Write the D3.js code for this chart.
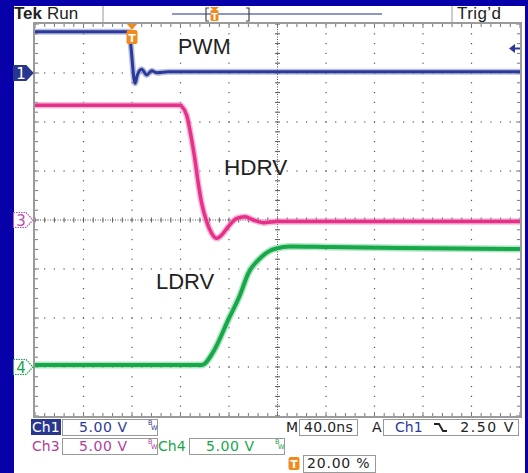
<!DOCTYPE html>
<html><head><meta charset="utf-8">
<script src="https://cdn.jsdelivr.net/npm/d3@7"></script>
<style>html,body{margin:0;padding:0;background:#0800a8;}svg{display:block;}</style>
</head><body>
<svg id="c" width="528" height="473"></svg>
<script>
// ---- data (time in ns relative to trigger, volts) ----
const pwmTime  = [-80, -2.2, -1.1, 2.5, 4.4, 8.0, 12.1, 16.2, 20.4, 30, 320];
const pwmVolts = [4.2, 4.2, 3.0, -1.05, -0.2, 0.38, -0.2, 0.23, 0.03, 0.13, 0.13];
const hdrvTime  = [-80, 40, 41.0, 45.1, 49.2, 52.0, 54.7, 57.5, 61.6, 65.7, 69.9, 74.0, 79.4, 86.4, 93.2, 100.0, 108.3, 120, 320];
const hdrvVolts = [11.7, 11.7, 11.6, 10.7, 8.2, 6.1, 3.7, 1.7, -0.17, -1.36, -1.87, -1.53, -0.68, 0.17, 0.34, 0.0, -0.27, -0.15, -0.15];
const ldrvTime  = [-80, 39.6, 56, 58.8, 67.1, 80.2, 89.1, 95.9, 105.6, 113.8, 119.3, 130.3, 163.3, 221, 320];
const ldrvVolts = [0.2, 0.2, 0.2, 0.25, 1.56, 5.03, 7.35, 9.56, 11.09, 11.87, 12.11, 12.3, 12.24, 12.14, 12.04];
const channelNames = ["PWM", "HDRV", "LDRV"];
const timeDomain = [-80, 320];      // 40 ns/div, 10 div, trigger at 20 %
const voltsPerDiv = 5;
const xDivs = 10, yDivs = 8;

const svg = d3.select("#c");
const L = 35, R = 520, T = 24, B = 416;
const x = d3.scaleLinear().domain(timeDomain).range([L, R]);
const yDiv = d3.scaleLinear().domain([-yDivs/2, yDivs/2]).range([B, T]);
const dx = (R-L)/xDivs, dy = (B-T)/yDivs;

// white screen
svg.append("rect").attr("x",14).attr("y",6).attr("width",511).attr("height",467).attr("fill","#fff");

// ---- top status bar ----
svg.append("text").attr("x",14).attr("y",19).attr("font-family","Liberation Sans").attr("font-weight","bold").attr("font-size",17).attr("fill","#222").text("Tek");
svg.append("text").attr("x",47).attr("y",19).attr("font-family","Liberation Sans").attr("font-size",17).attr("fill","#222").text("Run");
svg.append("line").attr("x1",103).attr("x2",103).attr("y1",6).attr("y2",22).attr("stroke","#999");
svg.append("line").attr("x1",452).attr("x2",452).attr("y1",6).attr("y2",22).attr("stroke","#999");
svg.append("text").attr("x",457).attr("y",19).attr("font-family","Liberation Sans").attr("font-size",17).attr("letter-spacing",0.4).attr("fill","#222").text("Trig’d");
svg.append("line").attr("x1",172).attr("x2",382).attr("y1",14).attr("y2",14).attr("stroke","#6a72b4").attr("stroke-width",1.3);
svg.append("path").attr("d","M209,8 H206 V21 H209").attr("fill","none").attr("stroke","#444").attr("stroke-width",1.2);
svg.append("path").attr("d","M246,8 H249 V21 H246").attr("fill","none").attr("stroke","#444").attr("stroke-width",1.2);
svg.append("path").attr("d","M210,7 H219 L214.5,11 Z").attr("fill","#f08a1c");
svg.append("rect").attr("x",210.5).attr("y",10).attr("width",8).attr("height",11).attr("rx",1.5).attr("fill","#f08a1c");
svg.append("text").attr("x",214.5).attr("y",19.5).attr("text-anchor","middle").attr("font-family","DejaVu Sans").attr("font-weight","bold").attr("font-size",9).attr("fill","#fff").text("T");

// ---- graticule ----
const g = svg.append("g");
for (let k = 1; k < xDivs; k++) {
  if (k === xDivs/2) continue;
  for (let j = 0; j <= yDivs*5; j++) {
    g.append("rect").attr("x", L + k*dx - 0.6).attr("y", T + j*dy/5 - 0.6).attr("width",1.2).attr("height",1.2).attr("fill","#555");
  }
}
for (let k = 1; k < yDivs; k++) {
  if (k === yDivs/2) continue;
  for (let j = 0; j <= xDivs*5; j++) {
    g.append("rect").attr("x", L + j*dx/5 - 0.6).attr("y", T + k*dy - 0.6).attr("width",1.2).attr("height",1.2).attr("fill","#555");
  }
}
const cx = L + dx*xDivs/2, cy = T + dy*yDivs/2;
g.append("line").attr("x1",cx).attr("x2",cx).attr("y1",T).attr("y2",B).attr("stroke","#555").attr("stroke-width",1).attr("stroke-dasharray","1,1.5");
g.append("line").attr("x1",L).attr("x2",R).attr("y1",cy).attr("y2",cy).attr("stroke","#555").attr("stroke-width",1).attr("stroke-dasharray","1,1.5");
for (let j = 0; j <= xDivs*5; j++) {
  const xx = L + j*dx/5;
  g.append("line").attr("x1",xx).attr("x2",xx).attr("y1",cy-2.5).attr("y2",cy+2.5).attr("stroke","#555");
  g.append("line").attr("x1",xx).attr("x2",xx).attr("y1",T).attr("y2",T+(j%5===0?4:3)).attr("stroke","#777");
  g.append("line").attr("x1",xx).attr("x2",xx).attr("y1",B).attr("y2",B-(j%5===0?4:3)).attr("stroke","#777");
}
for (let j = 0; j <= yDivs*5; j++) {
  const yy = T + j*dy/5;
  g.append("line").attr("y1",yy).attr("y2",yy).attr("x1",cx-2.5).attr("x2",cx+2.5).attr("stroke","#555");
  g.append("line").attr("y1",yy).attr("y2",yy).attr("x1",L).attr("x2",L+(j%5===0?4:3)).attr("stroke","#777");
  g.append("line").attr("y1",yy).attr("y2",yy).attr("x1",R).attr("x2",R-(j%5===0?4:3)).attr("stroke","#777");
}
g.append("rect").attr("x",L-1).attr("y",T-1).attr("width",R-L+2).attr("height",B-T+2).attr("fill","none").attr("stroke","#9a9a9a").attr("stroke-width",2);

// ---- traces ----
const channels = [
  {name: channelNames[0], t: pwmTime, v: pwmVolts, offset: 3, color: "#2b3a98", halo:"#8a93cc", w: 3},
  {name: channelNames[1], t: hdrvTime, v: hdrvVolts, offset: 0, color: "#e6308a", halo:"#f08cc0", w: 3.5},
  {name: channelNames[2], t: ldrvTime, v: ldrvVolts, offset: -3, color: "#17a84a", halo:"#7fd39b", w: 4}
];
channels.forEach(ch => {
  const pts = ch.t.map((t,i) => [x(t), yDiv(ch.offset + ch.v[i]/voltsPerDiv)]);
  const line = d3.line().curve(d3.curveMonotoneX);
  svg.append("path").attr("d", line(pts)).attr("fill","none").attr("stroke",ch.halo).attr("stroke-width",ch.w+3).attr("stroke-opacity",0.6).attr("stroke-linejoin","round");
  svg.append("path").attr("d", line(pts)).attr("fill","none").attr("stroke",ch.color).attr("stroke-width",ch.w).attr("stroke-linejoin","round");
});

// trace labels
svg.append("text").attr("x",178).attr("y",54).attr("font-family","Liberation Sans").attr("font-size",21.5).attr("fill","#222").text(channelNames[0]);
svg.append("text").attr("x",224).attr("y",175).attr("font-family","Liberation Sans").attr("font-size",22.5).attr("fill","#222").text(channelNames[1]);
svg.append("text").attr("x",156).attr("y",289).attr("font-family","Liberation Sans").attr("font-size",22).attr("fill","#222").text(channelNames[2]);

// trigger position marker (t = 0)
const tx = x(0);
svg.append("path").attr("d",`M${tx-5},${T} H${tx+5} L${tx},${T+6} Z`).attr("fill","#f08a1c");
svg.append("rect").attr("x",tx-5.5).attr("y",T+6).attr("width",11).attr("height",14).attr("rx",2).attr("fill","#f08a1c");
svg.append("text").attr("x",tx).attr("y",T+17.5).attr("text-anchor","middle").attr("font-family","DejaVu Sans").attr("font-weight","bold").attr("font-size",11).attr("fill","#fff").text("T");

// trigger level arrow (Ch1, 2.50 V)
const ty = yDiv(3 + 2.5/voltsPerDiv);
svg.append("path").attr("d",`M${R-11},${ty} L${R-5},${ty-4.5} L${R-5},${ty+4.5} Z`).attr("fill","#2b3a98");
svg.append("line").attr("x1",R-6).attr("x2",R).attr("y1",ty).attr("y2",ty).attr("stroke","#2b3a98").attr("stroke-width",2);

// channel ground markers
const markers = [
  {label:"1", offset:3, fill:"#28368f", stroke:"#28368f", text:"#fff"},
  {label:"3", offset:0, fill:"#fff", stroke:"#c04aa8", text:"#c04aa8"},
  {label:"4", offset:-3, fill:"#fff", stroke:"#18a64a", text:"#18a64a"}
];
markers.forEach(m => {
  const yy = yDiv(m.offset);
  svg.append("path").attr("d",`M13.5,${yy-7.5} H26 L33,${yy} L26,${yy+7.5} H13.5 Z`)
    .attr("fill",m.fill).attr("stroke",m.stroke).attr("stroke-width",1.2).attr("stroke-dasharray", m.fill==="#fff"?"1.5,1":null);
  svg.append("text").attr("x",21).attr("y",yy+5.5).attr("text-anchor","middle").attr("font-family","DejaVu Sans").attr("font-size",15).attr("fill",m.text).text(m.label);
});

// ---- bottom readouts ----
const F = "DejaVu Sans";
function box(x0,y0,w,h){ svg.append("rect").attr("x",x0+0.5).attr("y",y0+0.5).attr("width",w).attr("height",h).attr("fill","#fff").attr("stroke","#999").attr("stroke-width",1); }
function txt(xx,yy,s,c,opts={}){ return svg.append("text").attr("x",xx).attr("y",yy).attr("font-family",F).attr("font-size",opts.size||14).attr("fill",c).attr("letter-spacing",opts.ls||0).attr("text-anchor",opts.anchor||"start").text(s); }
function bw(xx,yy,c){ txt(xx,yy,"B",c,{size:6.5}); txt(xx+3,yy+5,"W",c,{size:6.5}); }

svg.append("rect").attr("x",31).attr("y",419).attr("width",30).attr("height",16).attr("fill","#28368f");
txt(32,432,"Ch1","#fff");
box(62,419,95,16); txt(79,432,"5.00 V","#2b3a98",{ls:0.6}); bw(148,425,"#2b3a98");
txt(286,432,"M","#222");
box(299,419,58,16); txt(304,432,"40.0ns","#222",{ls:0.3});
txt(372,432,"A","#222");
box(383,419,135,16); txt(395,432,"Ch1","#2b3a98");
svg.append("path").attr("d","M434,424 H439 L443,431 H447").attr("fill","none").attr("stroke","#222").attr("stroke-width",1.8);
txt(515,432,"2.50 V","#222",{anchor:"end",ls:1.6});

txt(32,451,"Ch3","#b0409a");
box(62,438,95,16); txt(79,451,"5.00 V","#b0409a",{ls:0.6}); bw(148,444,"#b0409a");
txt(158,451,"Ch4","#18a64a");
box(189,438,95,16); txt(206,451,"5.00 V","#18a64a",{ls:0.6}); bw(275,444,"#18a64a");

svg.append("rect").attr("x",288.5).attr("y",457).attr("width",11).attr("height",13).attr("rx",2).attr("fill","#f08a1c");
txt(294,468,"T","#fff",{size:11,anchor:"middle"}).attr("font-weight","bold");
box(303,455,72,17); txt(307,468,"20.00 %","#222",{ls:0.8});
</script>
</body></html>
